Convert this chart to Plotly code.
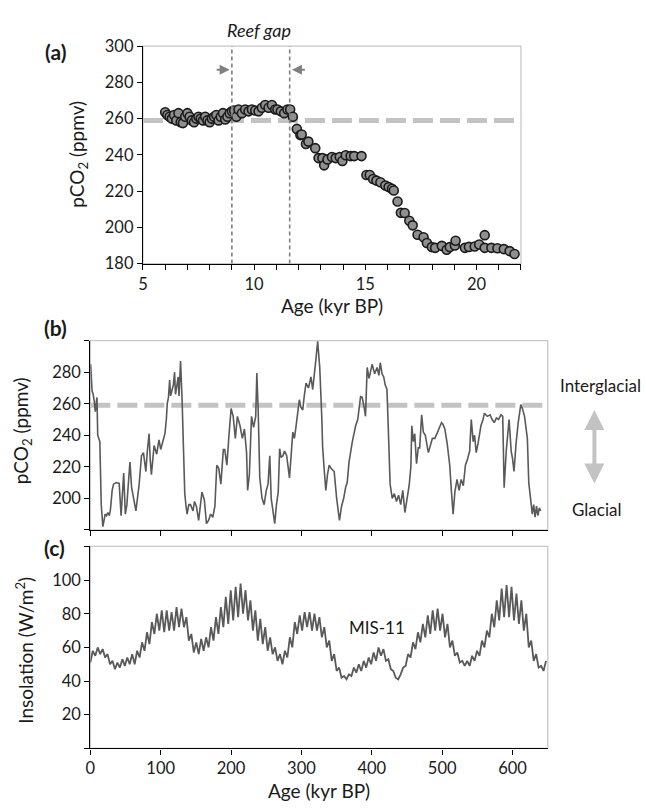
import plotly.graph_objects as go

W, H = 646, 812
FONT = "Lato"

# ---------------- Panel (a): pCO2 6-22 kyr BP ----------------
a_age = [6.0, 6.1, 6.2, 6.3, 6.4, 6.5, 6.6, 6.7, 6.8, 6.9, 7.0, 7.1, 7.2, 7.3, 7.4, 7.5,
         7.6, 7.7, 7.8, 7.9, 8.0, 8.1, 8.2, 8.3, 8.4, 8.5, 8.6, 8.7, 8.8, 8.9, 9.0, 9.1,
         9.2, 9.3, 9.45, 9.6, 9.75, 9.9, 10.05, 10.2, 10.35, 10.5, 10.65, 10.8, 10.95,
         11.05, 11.2, 11.35, 11.5, 11.62, 11.74, 11.92, 12.08, 12.14, 12.33, 12.44,
         12.75, 12.9, 13.07, 13.15, 13.3, 13.5, 13.67, 13.85, 13.97, 14.12, 14.34, 14.5,
         14.83, 15.05, 15.2, 15.35, 15.5, 15.68, 15.9, 16.05, 16.2, 16.28, 16.45, 16.6,
         16.77, 16.98, 17.13, 17.35, 17.62, 17.77, 17.99, 18.14, 18.44, 18.66, 18.8,
         19.03, 19.06, 19.48, 19.66, 19.92, 20.12, 20.37, 20.37, 20.67, 20.94, 21.23,
         21.49, 21.71]
a_co2 = [263.5, 262, 261, 260, 262, 259, 263, 258, 257.5, 261, 263, 261, 259, 258, 260, 261,
         260, 259, 261, 259, 258, 260, 261, 262, 259, 261, 263, 259.5, 261, 263, 264, 264.5,
         261, 265, 263, 265, 264, 265, 264.5, 264, 266, 267.5, 266, 267.5, 265,
         265, 264, 263, 265, 265, 261, 254.3, 250.9, 251.2, 246, 247.3, 243.7,
         238.2, 238.2, 234.2, 237.5, 238.8, 238.2, 238.8, 236.6, 239.8, 239.3, 239.3, 239.3,
         228.9, 228.9, 226.7, 225.8, 224.9, 223.1, 222.2, 221.3, 220.3, 214.3, 208, 207.9,
         203.6, 201.1, 195.9, 194.5, 191.4, 189.1, 188.7, 189.8, 187.6, 189.1, 190,
         192.6, 188.7, 189.2, 189.4, 190.5, 188.7, 195.7, 188.7, 188.5, 188, 186.9,
         185.3, 186.7]
a_xticks = [5, 10, 15, 20]
a_yticks = [180, 200, 220, 240, 260, 280, 300]
reef_gap = [9.0, 11.6]
ref_level = 259

# ---------------- Panel (b): pCO2 0-650 kyr BP ----------------
b_age = [0.4, 1.5, 2.5, 4, 5.5, 7, 8.5, 9.4, 10.5, 12, 13.5, 15.5, 17.8, 19.5, 21, 23, 25, 27,
         28.6, 31, 33, 36.6, 41, 43.7, 45.5, 47.4, 49.7, 52, 53, 56.3, 58.6, 61, 64.8, 69.4,
         72.7, 75.5, 77, 78.9, 81, 83.5, 85, 86.8, 90.6, 94.3, 96, 97.6, 100, 102, 103.7,
         106, 108, 109.3, 111, 112.7, 114, 116.3, 118, 119.7, 121, 122.5, 124.8, 126, 128.2,
         130.4, 132, 134.2, 136, 137.5, 140, 142.3, 145.9, 148, 150.7, 153.9, 156.5, 158.6,
         162, 165, 168, 171, 174, 177, 179.7, 182.5, 185.5, 189, 191, 194, 197, 200, 203,
         206, 209, 212.7, 216, 219, 222, 223.5, 226, 229, 232, 235, 236.6, 238.5, 240.8,
         244, 247, 250, 252.5, 255, 257, 259.5, 262, 264.5, 267, 269, 271, 273.7, 276, 279,
         283, 287.7, 290, 292.4, 295, 297, 299, 301.8, 304, 306.5, 310, 313.5, 316, 319,
         321, 323, 326, 329, 330, 332, 334.6, 337, 339.4, 342, 346.5, 350, 354, 357, 360,
         362.8, 365, 367.6, 372.3, 377, 380, 384, 386.3, 389, 391, 393.4, 396, 398, 400.4,
         404, 407.5, 410, 412, 414.5, 416.9, 419, 421.5, 424, 426, 429, 432, 435, 438, 441,
         444, 447, 450, 453, 455.5, 456.8, 459, 461, 463.5, 466, 468, 470.8, 473.2, 476,
         480.3, 483, 486, 489.6, 493, 496, 499, 501, 503.7, 507, 510.7, 513, 515.5, 518,
         521, 524, 527, 530, 533, 536, 539, 541.3, 544, 546, 548.3, 551, 555, 558, 560, 564,
         568, 571, 574, 577, 580, 583.5, 586, 588, 591, 595, 598, 600, 602, 605, 608, 611.7,
         614, 617, 621, 623, 625, 628, 630, 632, 634, 636, 638, 640]
b_co2 = [285, 277, 268, 266, 262, 255, 262, 264, 240, 238, 236, 196, 182, 186, 190, 189, 191, 189,
         193, 205, 209, 210, 209.5, 189, 205, 216, 190, 196, 203, 223, 207, 200, 192, 209,
         227, 229, 222, 217, 230, 241, 225, 215, 233.5, 228, 233, 237, 231, 235, 238,
         241, 250, 260, 264, 275, 265, 269, 272, 280, 266, 270, 277, 265, 287,
         262, 235, 203, 195, 190, 196, 196, 192, 198, 195, 186, 196, 204,
         199, 184, 186, 190, 188, 195, 221, 219, 209, 231, 231, 221, 240, 257, 252,
         238, 252, 246, 238, 244, 229, 205, 215, 252, 245, 252, 279.5, 256, 213,
         200, 196, 205, 209, 227, 200, 190, 184, 196, 204, 231.5, 226, 227, 230, 227,
         213, 242, 238, 246, 255, 262.5, 258, 256, 265, 273, 270, 277, 269, 285,
         290, 299.6, 283, 250, 233.5, 220, 205, 215, 221, 219, 217, 200, 186, 195, 200,
         207, 210, 223, 236, 246, 250, 264.5, 264, 258, 252, 283, 276, 280, 285,
         279, 283, 278, 286, 279, 277, 272, 269, 236, 209, 200, 203, 198, 202, 196,
         205, 191, 200, 208, 220, 246, 236, 241, 222, 232, 232, 253, 242, 240,
         229, 233, 238, 238, 242, 245, 248, 247, 244, 235, 221, 205, 190, 204,
         212, 205, 212, 208, 221, 225, 230, 250, 236, 240, 229, 235, 246, 250, 254, 252,
         253, 250, 248, 251, 250, 253, 252, 206.7, 230, 250, 230, 225, 217, 235, 248, 259.4,
         257, 252, 238, 210, 200, 190, 196, 188, 195, 189, 194, 192]
b_ref_age = [0, 643]
b_xticks = [0, 100, 200, 300, 400, 500, 600]
b_yticks = [180, 200, 220, 240, 260, 280, 300]
b_yticklabels = ["", "200", "220", "240", "260", "280", ""]

# ---------------- Panel (c): insolation, sampled every 3.5 kyr ----------------
c_step = 3.5
c_ins = [51, 58, 55, 60, 56, 59, 54, 56, 50, 52, 47, 51, 48, 53, 49, 54, 50, 56, 50, 58,
         54, 63, 58, 69, 62, 75, 68, 80, 70, 82, 69, 82, 70, 81, 70, 84, 72, 83, 72, 78,
         64, 68, 57, 63, 56, 65, 58, 66, 60, 72, 64, 78, 68, 84, 72, 90, 74, 94, 76, 96,
         78, 98, 80, 94, 76, 88, 70, 82, 64, 77, 62, 72, 58, 66, 56, 60, 52, 56, 50, 58,
         54, 66, 60, 75, 68, 79, 70, 81, 72, 81, 70, 80, 70, 78, 66, 72, 60, 64, 52, 56,
         46, 48, 42, 43, 41, 44, 43, 48, 45, 50, 46, 52, 48, 54, 50, 57, 52, 60, 55, 59,
         52, 53, 47, 46, 42, 41, 44, 48, 49, 56, 54, 63, 59, 69, 63, 74, 66, 79, 68, 82,
         70, 83, 70, 80, 66, 74, 60, 64, 55, 57, 51, 52, 49, 52, 49, 55, 52, 58, 55, 64,
         60, 70, 66, 80, 72, 88, 76, 95, 78, 97, 78, 96, 76, 92, 74, 88, 70, 80, 60, 64,
         52, 56, 48, 49, 46, 52]
c_age = [i * c_step for i in range(len(c_ins))]
c_xticks = [0, 100, 200, 300, 400, 500, 600]
c_yticks = [0, 20, 40, 60, 80, 100, 120]
c_yticklabels = ["", "20", "40", "60", "80", "100", ""]


def px(x):
    return x / W


def py(y):
    return 1 - y / H


dom_a_x = [px(139), px(520)]
dom_a_y = [py(260), py(37)]
dom_b_x = [px(86), px(547)]
dom_b_y = [py(533), py(339)]
dom_c_x = [px(86), px(547)]
dom_c_y = [py(757), py(550)]

LINE = "#595959"
REF = "#c3c3c3"
BORDER = "#c8c8c8"
TICKF = dict(family=FONT, size=16.5, color="#1a1a1a")
TITLE = 19

fig = go.Figure()

# panel a
fig.add_trace(go.Scatter(x=[5, 22], y=[ref_level, ref_level], mode="lines",
                         line=dict(color=REF, width=5, dash="20px,7px"),
                         xaxis="x", yaxis="y", showlegend=False, hoverinfo="skip"))
fig.add_trace(go.Scatter(x=a_age, y=a_co2, mode="markers",
                         marker=dict(size=9, color="#8f8f8f",
                                     line=dict(color="#1a1a1a", width=1.6)),
                         xaxis="x", yaxis="y", showlegend=False))
# panel b
fig.add_trace(go.Scatter(x=b_ref_age, y=[ref_level, ref_level], mode="lines",
                         line=dict(color=REF, width=5, dash="20px,7px"),
                         xaxis="x2", yaxis="y2", showlegend=False, hoverinfo="skip"))
fig.add_trace(go.Scatter(x=b_age, y=b_co2, mode="lines",
                         line=dict(color=LINE, width=1.6),
                         xaxis="x2", yaxis="y2", showlegend=False))
# panel c
fig.add_trace(go.Scatter(x=c_age, y=c_ins, mode="lines",
                         line=dict(color=LINE, width=1.8),
                         xaxis="x3", yaxis="y3", showlegend=False))

axis_common = dict(showgrid=False, zeroline=False, showline=True, linecolor="black",
                   linewidth=1.3, ticks="outside", ticklen=5, tickwidth=1,
                   tickcolor="black", tickfont=TICKF)

fig.update_layout(
    width=W, height=H, margin=dict(l=0, r=0, t=0, b=0),
    paper_bgcolor="white", plot_bgcolor="white",
    font=dict(family=FONT, color="#1a1a1a"),
    xaxis=dict(axis_common, domain=dom_a_x, anchor="y", range=[5, 22],
               tickvals=a_xticks,
               minor=dict(dtick=1, ticks="outside", ticklen=5, tickcolor="black")),
    yaxis=dict(axis_common, domain=dom_a_y, anchor="x", range=[180, 300],
               tickvals=a_yticks),
    xaxis2=dict(axis_common, domain=dom_b_x, anchor="y2", range=[0, 650],
                tickvals=b_xticks, showticklabels=False),
    yaxis2=dict(axis_common, domain=dom_b_y, anchor="x2", range=[180, 300],
                tickvals=b_yticks, ticktext=b_yticklabels),
    xaxis3=dict(axis_common, domain=dom_c_x, anchor="y3", range=[0, 650],
                tickvals=c_xticks),
    yaxis3=dict(axis_common, domain=dom_c_y, anchor="x3", range=[0, 120],
                tickvals=c_yticks, ticktext=c_yticklabels),
)

shapes = []
# gray frames (top/right borders)
for dx, dy in [(dom_a_x, dom_a_y), (dom_b_x, dom_b_y), (dom_c_x, dom_c_y)]:
    shapes.append(dict(type="rect", xref="paper", yref="paper", x0=dx[0], x1=dx[1],
                       y0=dy[0], y1=dy[1], line=dict(color=BORDER, width=1.3),
                       layer="below"))
# reef gap dashed verticals
for g in reef_gap:
    shapes.append(dict(type="line", xref="x", yref="y domain", x0=g, x1=g, y0=0, y1=1,
                       line=dict(color="#808080", width=1.6, dash="4px,3px")))
fig.update_layout(shapes=shapes)

ann = []


def text(x, y, s, size, **kw):
    d = dict(xref="paper", yref="paper", x=px(x), y=py(y), text=s, showarrow=False,
             font=dict(family=FONT, size=size, color="#1a1a1a"),
             xanchor="center", yanchor="middle")
    d.update(kw)
    ann.append(d)


text(51, 43, "<b>(a)</b>", 21)
text(51, 326, "<b>(b)</b>", 21)
text(50, 551, "<b>(c)</b>", 21)
text(256, 20, "<i>Reef gap</i>", 18)
text(74, 148, "pCO<sub>2</sub> (ppmv)", TITLE, textangle=-90)
text(330, 303, "Age (kyr BP)", TITLE)
text(18, 431, "pCO<sub>2</sub> (ppmv)", TITLE, textangle=-90)
text(20, 656, "Insolation (W/m<sup>2</sup>)", TITLE, textangle=-90)
text(316, 800, "Age (kyr BP)", TITLE)
text(643, 385, "Interglacial", 17, xanchor="right")
text(596, 512, "Glacial", 17)
text(375, 633, "MIS-11", 17)

# reef gap arrows
ann.append(dict(xref="x", yref="y", axref="x", ayref="y", x=8.9, y=287, ax=8.25, ay=287,
                text="", showarrow=True, arrowhead=2, arrowsize=1, arrowwidth=2,
                arrowcolor="#808080"))
ann.append(dict(xref="x", yref="y", axref="x", ayref="y", x=11.7, y=287, ax=12.35, ay=287,
                text="", showarrow=True, arrowhead=2, arrowsize=1, arrowwidth=2,
                arrowcolor="#808080"))
# glacial/interglacial double arrow
ann.append(dict(xref="paper", yref="paper", axref="pixel", ayref="pixel",
                x=px(594), y=py(410), ax=0, ay=75, text="", showarrow=True,
                arrowhead=2, startarrowhead=2, arrowside="end+start", arrowsize=1,
                startarrowsize=1, arrowwidth=4, arrowcolor=REF))

fig.update_layout(annotations=ann)

fig.write_html("out.html",
               config={"displayModeBar": False},
               post_script="document.body.style.margin='0';"
                           "document.body.style.overflow='hidden';")
